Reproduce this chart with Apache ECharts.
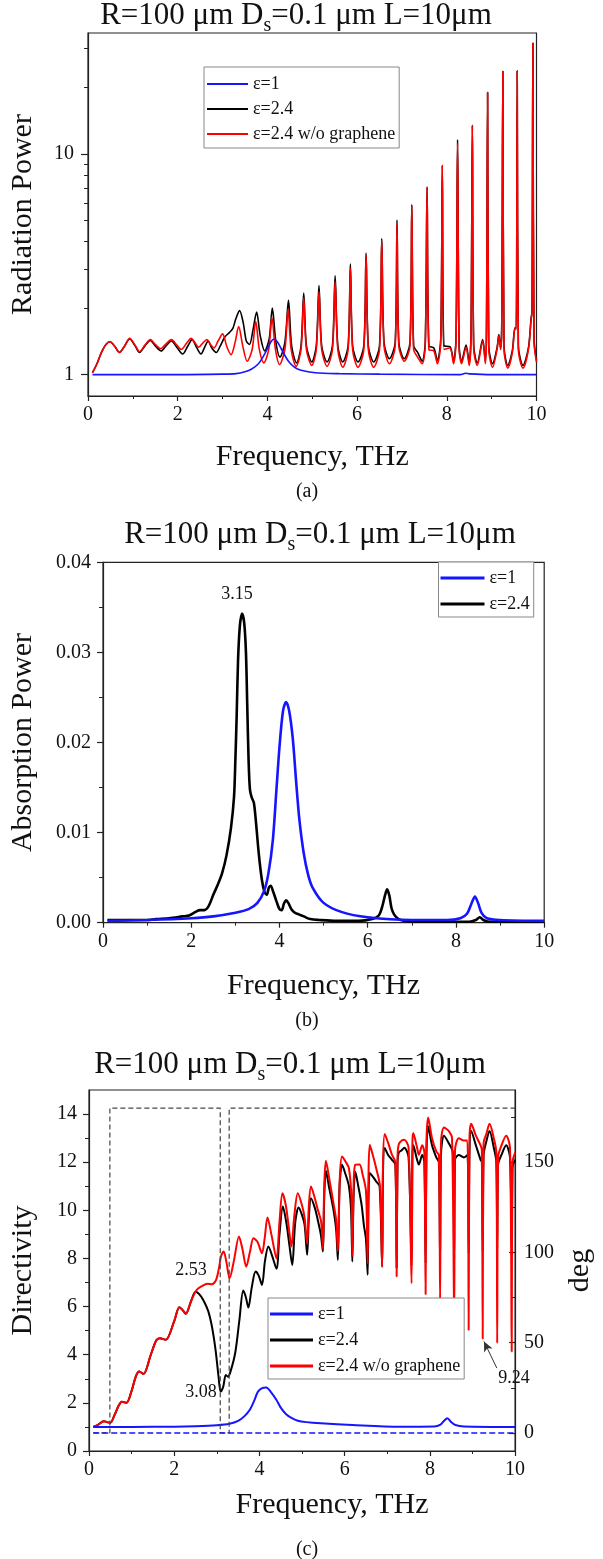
<!DOCTYPE html>
<html><head><meta charset="utf-8">
<script src="https://cdn.jsdelivr.net/npm/echarts@6/dist/echarts.min.js"></script>
<style>html,body{margin:0;padding:0;background:#fff}#c{width:603px;height:1559px}</style>
</head><body><div id="c"></div>
<script>
const FONT = '"Liberation Serif","Times New Roman",serif';

// ---------- tick values ----------
const freqTicks = [0, 2, 4, 6, 8, 10];
const radMajor = [1, 10];
const radMinor = [2, 3, 4, 5, 6, 7, 8, 9, 20, 30];
const dirMajor = [0, 2, 4, 6, 8, 10, 12, 14];
const dirMinor = [1, 3, 5, 7, 9, 11, 13];
const degMajor = [0, 50, 100, 150];
const degMinor = [25, 75, 125, 175];

// ---------- (a) Radiation power ----------
const radBlue = [[0.1,1.0],[1,1.0],[2,1.0],[3,1.005],[3.3,1.01],[3.5,1.03],[3.65,1.06],[3.8,1.12],[3.9,1.2],[4.0,1.31],[4.08,1.41],[4.15,1.45],[4.22,1.41],[4.3,1.32],[4.38,1.23],[4.47,1.15],[4.6,1.08],[4.73,1.05],[5.07,1.02],[5.6,1.01],[6.5,1.005],[8.3,1.0],[8.42,1.015],[8.5,1.008],[9,1.0],[10,1.0]];
const radBlack = [[0.1,1.02],[0.2,1.12],[0.3,1.26],[0.4,1.37],[0.49,1.41],[0.6,1.34],[0.7,1.26],[0.8,1.33],[0.93,1.45],[1.05,1.35],[1.15,1.26],[1.27,1.35],[1.39,1.43],[1.5,1.35],[1.63,1.28],[1.74,1.35],[1.86,1.42],[1.98,1.33],[2.11,1.24],[2.22,1.34],[2.32,1.44],[2.42,1.33],[2.52,1.24],[2.6,1.33],[2.68,1.42],[2.76,1.32],[2.86,1.26],[2.95,1.35],[3.05,1.48],[3.15,1.55],[3.23,1.62],[3.3,1.8],[3.38,1.95],[3.46,1.72],[3.53,1.42],[3.6,1.37],[3.68,1.6],[3.76,1.92],[3.84,1.5],[3.94,1.28],[4.04,1.45],[4.11,2.0],[4.19,1.4],[4.28,1.2],[4.39,1.4],[4.47,2.17],[4.54,1.35],[4.65,1.13],[4.75,1.35],[4.81,2.34],[4.87,1.35],[4.99,1.14],[5.09,1.35],[5.15,2.53],[5.21,1.35],[5.33,1.14],[5.45,1.35],[5.51,2.8],[5.57,1.35],[5.68,1.14],[5.8,1.35],[5.85,3.17],[5.9,1.35],[6.02,1.14],[6.15,1.35],[6.2,3.55],[6.25,1.35],[6.37,1.14],[6.5,1.35],[6.55,4.14],[6.6,1.4],[6.72,1.18],[6.85,1.4],[6.89,5.02],[6.93,1.4],[7.05,1.18],[7.18,1.4],[7.22,5.9],[7.26,1.35],[7.35,1.26],[7.45,1.15],[7.52,1.4],[7.56,7.1],[7.6,1.35],[7.71,1.32],[7.79,1.16],[7.865,1.45],[7.9,8.9],[7.935,1.35],[8.07,1.34],[8.15,1.16],[8.205,1.45],[8.24,11.6],[8.275,1.35],[8.33,1.15],[8.43,1.36],[8.5,1.13],[8.54,1.55],[8.57,13.5],[8.6,1.35],[8.68,1.13],[8.8,1.44],[8.86,1.15],[8.885,1.65],[8.91,19],[8.935,1.35],[9.02,1.12],[9.12,1.32],[9.16,1.52],[9.2,1.32],[9.225,1.65],[9.25,23.7],[9.275,1.35],[9.36,1.1],[9.46,1.28],[9.52,1.63],[9.548,1.62],[9.57,23.8],[9.595,1.35],[9.7,1.1],[9.82,1.32],[9.88,1.8],[9.9,1.92],[9.92,31.8],[9.945,1.45],[10,1.16]];
const radRed = [[0.1,1.02],[0.2,1.12],[0.3,1.26],[0.4,1.37],[0.49,1.41],[0.6,1.34],[0.7,1.26],[0.8,1.33],[0.93,1.46],[1.05,1.36],[1.15,1.27],[1.27,1.36],[1.39,1.44],[1.5,1.37],[1.62,1.31],[1.74,1.38],[1.86,1.44],[1.98,1.36],[2.08,1.3],[2.2,1.39],[2.3,1.46],[2.38,1.4],[2.47,1.33],[2.56,1.39],[2.65,1.44],[2.73,1.37],[2.81,1.32],[2.9,1.42],[3.0,1.53],[3.1,1.33],[3.19,1.23],[3.28,1.4],[3.36,1.65],[3.45,1.35],[3.55,1.15],[3.66,1.3],[3.74,1.74],[3.82,1.3],[3.92,1.13],[4.03,1.3],[4.1,1.82],[4.18,1.3],[4.27,1.11],[4.39,1.3],[4.46,1.98],[4.53,1.3],[4.64,1.09],[4.75,1.3],[4.81,2.22],[4.87,1.3],[4.99,1.10],[5.09,1.3],[5.15,2.38],[5.21,1.3],[5.33,1.09],[5.45,1.3],[5.51,2.64],[5.57,1.3],[5.68,1.08],[5.8,1.3],[5.85,3.04],[5.9,1.3],[6.02,1.08],[6.15,1.3],[6.2,3.48],[6.25,1.3],[6.37,1.08],[6.5,1.3],[6.55,4.04],[6.6,1.35],[6.72,1.12],[6.85,1.35],[6.89,4.86],[6.93,1.35],[7.05,1.15],[7.18,1.35],[7.22,5.82],[7.26,1.3],[7.35,1.2],[7.45,1.12],[7.52,1.35],[7.56,7.06],[7.6,1.3],[7.71,1.28],[7.79,1.12],[7.865,1.4],[7.9,8.85],[7.935,1.3],[8.07,1.32],[8.15,1.12],[8.205,1.4],[8.24,11.2],[8.275,1.3],[8.33,1.12],[8.43,1.33],[8.5,1.1],[8.54,1.5],[8.57,13.4],[8.6,1.3],[8.68,1.1],[8.8,1.42],[8.86,1.12],[8.885,1.6],[8.91,18.9],[8.935,1.3],[9.02,1.08],[9.12,1.3],[9.16,1.5],[9.2,1.3],[9.225,1.6],[9.25,23.6],[9.275,1.3],[9.36,1.07],[9.46,1.25],[9.52,1.62],[9.548,1.6],[9.57,23.7],[9.595,1.3],[9.7,1.07],[9.82,1.3],[9.88,1.78],[9.9,1.9],[9.92,31.7],[9.945,1.4],[10,1.14]];

// ---------- (b) Absorption power ----------
const absBlack = [[0.1,0.0003],[0.5,0.0003],[1.0,0.0003],[1.2,0.0004],[1.5,0.0005],[1.8,0.0007],[1.95,0.0008],[2.1,0.0012],[2.2,0.0014],[2.3,0.0014],[2.4,0.0019],[2.5,0.0031],[2.6,0.0042],[2.7,0.0055],[2.8,0.0075],[2.9,0.0105],[2.97,0.014],[3.0,0.018],[3.03,0.023],[3.06,0.029],[3.1,0.0328],[3.15,0.0343],[3.2,0.0333],[3.24,0.030],[3.27,0.024],[3.3,0.018],[3.33,0.0148],[3.37,0.0139],[3.42,0.0133],[3.47,0.011],[3.53,0.0077],[3.6,0.0048],[3.66,0.0034],[3.71,0.0031],[3.76,0.0039],[3.8,0.0041],[3.86,0.0034],[3.93,0.0024],[4.0,0.0015],[4.05,0.0014],[4.1,0.0021],[4.15,0.0025],[4.2,0.0022],[4.27,0.0015],[4.35,0.0011],[4.45,0.0009],[4.55,0.0007],[4.7,0.0004],[4.9,0.0003],[5.3,0.0002],[5.8,0.0002],[6.1,0.0004],[6.25,0.0008],[6.33,0.0018],[6.39,0.003],[6.44,0.0037],[6.49,0.003],[6.54,0.0016],[6.6,0.0009],[6.7,0.0004],[6.85,0.0002],[7.5,0.0001],[8.3,0.0001],[8.45,0.0003],[8.54,0.0006],[8.62,0.0003],[8.75,0.0001],[10,0.0001]];
const absBlue = [[0.1,0.0002],[1,0.0003],[2,0.0005],[2.5,0.0007],[3.0,0.0011],[3.3,0.0015],[3.5,0.0022],[3.65,0.0035],[3.75,0.0055],[3.85,0.0092],[3.93,0.0147],[4.0,0.0195],[4.08,0.0235],[4.15,0.0245],[4.22,0.0235],[4.3,0.0205],[4.38,0.0155],[4.45,0.0115],[4.55,0.0077],[4.65,0.0053],[4.75,0.0039],[5.0,0.0022],[5.4,0.0012],[6.0,0.0006],[7.0,0.0003],[7.8,0.0003],[8.1,0.0005],[8.25,0.0010],[8.35,0.0021],[8.43,0.0029],[8.5,0.0022],[8.58,0.0011],[8.7,0.0005],[9,0.0003],[10,0.0002]];

// ---------- (c) Directivity & phase ----------
const dirBlue = [[0.1,1.0],[1,1.0],[2,1.01],[2.5,1.03],[3,1.07],[3.3,1.13],[3.5,1.25],[3.65,1.45],[3.77,1.7],[3.88,2.1],[3.96,2.45],[4.05,2.6],[4.16,2.64],[4.27,2.45],[4.4,2.12],[4.5,1.8],[4.62,1.54],[4.75,1.38],[4.9,1.26],[5.1,1.2],[5.44,1.15],[6.18,1.08],[7.29,1.01],[8.1,1.02],[8.25,1.1],[8.33,1.25],[8.41,1.36],[8.5,1.2],[8.6,1.08],[8.8,1.02],[10,1.0]];
const dirBlack = [[0.1,1.0],[0.2,1.08],[0.35,1.24],[0.42,1.2],[0.5,1.17],[0.6,1.5],[0.7,1.9],[0.77,2.05],[0.88,2.0],[1.0,2.5],[1.1,3.1],[1.18,3.3],[1.28,3.2],[1.45,4.0],[1.58,4.6],[1.66,4.69],[1.8,4.62],[2.0,5.4],[2.12,5.97],[2.2,5.85],[2.27,5.7],[2.4,6.25],[2.50,6.62],[2.62,6.45],[2.72,6.14],[2.8,5.8],[2.87,5.31],[2.93,4.7],[2.98,4.06],[3.04,3.09],[3.09,2.47],[3.15,2.67],[3.21,3.16],[3.26,3.09],[3.32,3.30],[3.43,4.06],[3.53,5.45],[3.62,6.67],[3.68,6.4],[3.74,5.96],[3.82,6.8],[3.91,7.46],[3.98,7.3],[4.06,6.9],[4.13,7.9],[4.21,8.5],[4.3,8.1],[4.40,7.57],[4.47,9.0],[4.55,10.16],[4.63,9.5],[4.7,8.6],[4.77,7.73],[4.84,9.5],[4.92,10.12],[5.0,9.8],[5.06,9.4],[5.12,8.15],[5.16,9.7],[5.21,10.5],[5.3,10.1],[5.36,9.67],[5.44,9.0],[5.49,8.29],[5.52,10.5],[5.56,11.64],[5.64,10.9],[5.73,10.1],[5.8,9.2],[5.84,7.94],[5.88,11.0],[5.94,11.89],[6.02,11.5],[6.10,11.0],[6.15,10.0],[6.18,7.87],[6.21,10.6],[6.25,11.6],[6.32,11.0],[6.4,10.2],[6.45,9.4],[6.5,8.8],[6.54,7.32],[6.56,10.5],[6.59,11.55],[6.66,11.4],[6.74,11.2],[6.82,11.0],[6.88,7.66],[6.9,11.6],[6.94,12.59],[7.02,12.3],[7.11,12.1],[7.19,11.9],[7.22,7.6],[7.24,11.9],[7.27,12.4],[7.34,12.5],[7.40,12.6],[7.5,12.2],[7.57,7.7],[7.59,12.2],[7.61,12.7],[7.7,12.1],[7.74,11.9],[7.82,12.3],[7.87,12.0],[7.90,7.8],[7.92,12.4],[7.96,13.48],[8.05,12.7],[8.15,12.2],[8.21,12.0],[8.24,7.9],[8.26,12.3],[8.33,13.1],[8.44,12.8],[8.54,12.4],[8.57,8.0],[8.59,12.1],[8.68,12.3],[8.8,12.2],[8.88,12.3],[8.91,8.2],[8.93,12.5],[8.97,13.3],[9.08,12.7],[9.19,12.1],[9.22,12.0],[9.24,8.3],[9.26,12.3],[9.33,12.9],[9.40,13.3],[9.5,12.6],[9.56,12.0],[9.58,8.4],[9.6,11.9],[9.68,12.3],[9.79,12.7],[9.88,12.2],[9.92,8.5],[9.94,11.8],[10,12.1]];
const dirRed = [[0.1,1.0],[0.2,1.08],[0.35,1.24],[0.42,1.2],[0.5,1.17],[0.6,1.5],[0.7,1.9],[0.77,2.05],[0.88,2.0],[1.0,2.5],[1.1,3.1],[1.18,3.3],[1.28,3.2],[1.45,4.0],[1.58,4.6],[1.66,4.69],[1.8,4.62],[2.0,5.4],[2.12,5.97],[2.2,5.85],[2.27,5.7],[2.4,6.25],[2.53,6.7],[2.65,6.85],[2.78,6.95],[2.88,6.93],[2.98,7.1],[3.05,7.6],[3.1,8.1],[3.16,8.29],[3.22,7.9],[3.3,7.18],[3.4,7.9],[3.52,8.91],[3.6,8.4],[3.69,7.66],[3.78,8.3],[3.86,8.84],[3.95,8.7],[4.06,8.22],[4.12,8.8],[4.19,9.70],[4.28,9.0],[4.4,8.0],[4.47,9.5],[4.54,10.71],[4.62,10.2],[4.69,9.26],[4.75,8.5],[4.82,9.8],[4.9,10.71],[5.0,10.2],[5.06,9.68],[5.12,8.6],[5.16,10.2],[5.21,10.99],[5.3,10.5],[5.36,10.09],[5.45,9.5],[5.49,8.4],[5.52,11.0],[5.56,12.06],[5.64,11.3],[5.73,10.37],[5.8,9.6],[5.84,8.3],[5.89,11.5],[5.94,12.24],[6.03,12.0],[6.10,11.75],[6.16,10.5],[6.18,8.1],[6.21,11.0],[6.25,11.89],[6.35,11.9],[6.42,11.5],[6.5,10.8],[6.54,7.8],[6.56,11.5],[6.59,12.72],[6.66,12.3],[6.74,11.75],[6.83,11.0],[6.88,7.66],[6.9,12.0],[6.94,13.17],[7.02,12.8],[7.11,12.31],[7.19,12.0],[7.22,7.25],[7.24,12.2],[7.27,12.75],[7.34,12.9],[7.40,12.93],[7.5,12.6],[7.57,6.97],[7.59,12.8],[7.61,13.21],[7.7,12.6],[7.74,12.31],[7.82,12.7],[7.87,12.4],[7.90,6.51],[7.92,12.8],[7.96,13.86],[8.05,13.0],[8.15,12.45],[8.21,12.3],[8.24,6.31],[8.26,12.8],[8.33,13.44],[8.44,13.3],[8.52,13.0],[8.57,5.45],[8.59,12.5],[8.68,13.0],[8.8,12.9],[8.88,12.9],[8.91,5.03],[8.93,13.0],[8.97,13.6],[9.08,13.1],[9.19,12.7],[9.22,12.5],[9.24,4.66],[9.26,12.8],[9.33,13.2],[9.40,13.6],[9.5,13.0],[9.56,12.4],[9.58,4.48],[9.6,12.2],[9.68,12.7],[9.79,13.1],[9.88,12.6],[9.92,4.13],[9.94,12.0],[10,12.4]];
const phaseBlack = [[0.1,0],[0.49,0],[0.49,180],[3.08,180],[3.08,0],[3.29,0],[3.29,180],[10,180]];
const phaseBlue = [[0.1,0],[10,0]];
const arrow924 = [[9.57,3.45],[9.27,4.55]];

const NAMES = ['ε=1', 'ε=2.4', 'ε=2.4 w/o graphene'];
const COLORS = {'ε=1': '#1515ff', 'ε=2.4': '#000000', 'ε=2.4 w/o graphene': '#ff0000'};

const AXC = '#222';
function xAx(grid, gap, pad) {
  return {
    type: 'value', gridIndex: grid, min: 0, max: 10, interval: 2,
    axisLine: {onZero: false, lineStyle: {color: AXC, width: 1.2}},
    axisTick: {length: 5, lineStyle: {color: AXC, width: 1.2}},
    minorTick: {show: true, splitNumber: 2, length: 3, lineStyle: {color: AXC, width: 1}},
    splitLine: {show: false}, minorSplitLine: {show: false},
    axisLabel: {fontFamily: FONT, fontSize: 20, color: '#111', margin: 9},
    name: 'Frequency, THz', nameLocation: 'middle', nameGap: gap,
    nameTextStyle: {fontFamily: FONT, fontSize: 30, color: '#111', padding: pad || 0}
  };
}
function minorAx(type, grid, pos, min, max, vals, inside) {
  return {
    type: type, gridIndex: grid, position: pos, min: min, max: max,
    axisLine: {show: false}, splitLine: {show: false},
    axisTick: {show: true, inside: !!inside, length: 4, customValues: vals, lineStyle: {color: AXC, width: 1}},
    axisLabel: {show: false}
  };
}
function line(name, data, xi, yi, width, z) {
  return {
    type: 'line', name: name, data: data, xAxisIndex: xi, yAxisIndex: yi,
    showSymbol: false, symbol: 'none', smooth: 0.3, z: z || 2,
    itemStyle: {color: COLORS[name]},
    lineStyle: {color: COLORS[name], width: width},
    emphasis: {disabled: true}
  };
}
function legend(left, top, names, iw, ih, gap, pad) {
  return {
    left: left, top: top, orient: 'vertical', data: names, icon: 'rect',
    itemWidth: iw, itemHeight: ih, itemGap: gap, padding: pad,
    borderColor: '#888', borderWidth: 1, backgroundColor: '#fff',
    textStyle: {fontFamily: FONT, fontSize: 18, color: '#111', lineHeight: 18},
    selectedMode: false
  };
}
function titleText(x, y, size) {
  return {
    type: 'text', x: x, y: y, z: 10,
    style: {
      text: '{m|R=100 μm D}{s|s}{m|=0.1 μm L=10μm}',
      rich: {
        m: {fontFamily: FONT, fontSize: size, lineHeight: 40, fill: '#111'},
        s: {fontFamily: FONT, fontSize: 20, lineHeight: 20, verticalAlign: 'bottom', fill: '#111'}
      },
      align: 'center', verticalAlign: 'middle'
    }
  };
}
function label(text, x, y, size) {
  return {type: 'text', x: x, y: y, z: 10,
    style: {text: text, fontFamily: FONT, fontSize: size, fill: '#111', align: 'center', verticalAlign: 'middle'}};
}

const option = {
  animation: false,
  backgroundColor: '#fff',
  grid: [
    {left: 87, right: 66.5, top: 33, height: 363, show: true, borderColor: AXC, borderWidth: 1.2},
    {left: 95.4, right: 58.8, top: 562.3, height: 360.4, show: true, borderColor: AXC, borderWidth: 1.2},
    {left: 87.7, right: 66.5, top: 1090, height: 361, show: true, borderColor: AXC, borderWidth: 1.2}
  ],
  xAxis: [xAx(0, 46), xAx(1, 48), xAx(2, 39, [0, 0, 0, 60])],
  yAxis: [
    { // 0: (a) log
      type: 'log', logBase: 10, gridIndex: 0, position: 'left', min: 0.8, max: 35.3,
      axisLine: {show: true, lineStyle: {color: AXC, width: 1.2}},
      axisTick: {length: 7, customValues: radMajor, lineStyle: {color: AXC, width: 1.2}},
      axisLabel: {customValues: radMajor, fontFamily: FONT, fontSize: 20, color: '#111', margin: 14},
      splitLine: {show: false},
      name: 'Radiation Power', nameLocation: 'middle', nameGap: 50,
      nameTextStyle: {fontFamily: FONT, fontSize: 30, color: '#111'}
    },
    minorAx('log', 0, 'left', 0.8, 35.3, radMinor, false), // 1
    { // 2: (b)
      type: 'value', gridIndex: 1, position: 'left', min: 0, max: 0.04, interval: 0.01,
      axisLine: {show: true, lineStyle: {color: AXC, width: 1.2}},
      axisTick: {length: 6, lineStyle: {color: AXC, width: 1.2}},
      minorTick: {show: true, splitNumber: 2, length: 4, lineStyle: {color: AXC, width: 1}},
      axisLabel: {fontFamily: FONT, fontSize: 20, color: '#111', margin: 12, formatter: v => v.toFixed(2)},
      splitLine: {show: false}, minorSplitLine: {show: false},
      name: 'Absorption Power', nameLocation: 'middle', nameGap: 65,
      nameTextStyle: {fontFamily: FONT, fontSize: 30, color: '#111'}
    },
    { // 3: (c) left
      type: 'value', gridIndex: 2, position: 'left', min: 0, max: 15,
      axisLine: {show: true, lineStyle: {color: AXC, width: 1.2}},
      axisTick: {length: 6, customValues: dirMajor, lineStyle: {color: AXC, width: 1.2}},
      axisLabel: {customValues: dirMajor, fontFamily: FONT, fontSize: 20, color: '#111', margin: 12},
      splitLine: {show: false},
      name: 'Directivity', nameLocation: 'middle', nameGap: 51,
      nameTextStyle: {fontFamily: FONT, fontSize: 30, color: '#111'}
    },
    { // 4: (c) right deg
      type: 'value', gridIndex: 2, position: 'right', min: -10, max: 190,
      axisLine: {show: true, lineStyle: {color: AXC, width: 1.2}},
      axisTick: {inside: true, length: 6, customValues: degMajor, lineStyle: {color: AXC, width: 1.2}},
      axisLabel: {customValues: degMajor, fontFamily: FONT, fontSize: 20, color: '#111', margin: 9},
      splitLine: {show: false},
      name: 'deg', nameLocation: 'middle', nameGap: 37,
      nameTextStyle: {fontFamily: FONT, fontSize: 30, color: '#111'}
    },
    minorAx('value', 2, 'left', 0, 15, dirMinor, false), // 5
    minorAx('value', 2, 'right', -10, 190, degMinor, true) // 6
  ],
  legend: [
    legend(204, 67, NAMES, 41, 2, 7, [8, 4, 5, 3]),
    legend(438.5, 562, NAMES.slice(0, 2), 44, 3, 8, [7, 4, 4, 2]),
    legend(268, 1298, NAMES, 43, 3, 8, [7, 4, 4, 2])
  ],
  series: [
    line('ε=2.4', radBlack, 0, 0, 1.6),
    line('ε=2.4 w/o graphene', radRed, 0, 0, 1.6),
    line('ε=1', radBlue, 0, 0, 1.6),
    line('ε=2.4', absBlack, 1, 2, 2.6),
    line('ε=1', absBlue, 1, 2, 2.6),
    {type: 'line', name: 'phase ε=2.4', data: phaseBlack, xAxisIndex: 2, yAxisIndex: 4,
      showSymbol: false, symbol: 'none', color: '#444',
      lineStyle: {color: '#444', width: 1.2, type: [5, 3]}},
    {type: 'line', name: 'phase ε=1', data: phaseBlue, xAxisIndex: 2, yAxisIndex: 4,
      showSymbol: false, symbol: 'none', color: '#1515ff',
      lineStyle: {color: '#1515ff', width: 1.5, type: [6, 3]}},
    line('ε=2.4', dirBlack, 2, 3, 2),
    Object.assign(line('ε=2.4 w/o graphene', dirRed, 2, 3, 2), {
      markLine: {
        silent: true, symbol: ['none', 'arrow'], symbolSize: [7, 10], animation: false,
        lineStyle: {color: '#333', width: 1, type: 'solid'}, label: {show: false},
        data: [[{coord: arrow924[0]}, {coord: arrow924[1]}]]
      }
    }),
    line('ε=1', dirBlue, 2, 3, 2)
  ],
  graphic: [
    titleText(296, 16, 31),
    titleText(320, 535, 31),
    titleText(290, 1065, 31),
    label('(a)', 307, 492, 20),
    label('(b)', 307, 1021, 20),
    label('(c)', 307, 1550, 20),
    label('3.15', 237, 594, 18),
    label('2.53', 191, 1270, 18),
    label('3.08', 201, 1392, 18),
    label('9.24', 514, 1378, 18)
  ]
};
const chart = echarts.init(document.getElementById('c'), null, {renderer: 'canvas', width: 603, height: 1559});
chart.setOption(option);
</script></body></html>
